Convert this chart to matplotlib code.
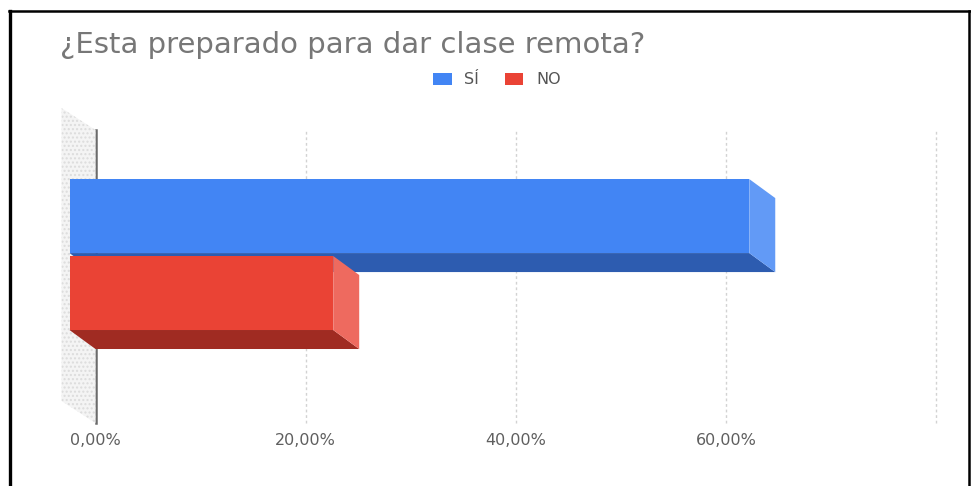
import matplotlib
matplotlib.use("Agg")
import matplotlib.pyplot as plt
from matplotlib.patches import Polygon, Patch
from matplotlib.lines import Line2D
from matplotlib.transforms import IdentityTransform

# ---------------- data ----------------
title = "¿Esta preparado para dar clase remota?"
series_names = ["SÍ", "NO"]
series_values = [64.7, 25.1]          # percent
x_ticks = [0, 20, 40, 60]
x_tick_labels = ["0,00%", "20,00%", "40,00%", "60,00%"]
grid_values = [20, 40, 60, 80]

# ---------------- style ----------------
front_colors = ["#4285F4", "#EA4335"]
side_colors = ["#629AF6", "#EE6A5F"]
bottom_colors = ["#2D5CB0", "#A02B22"]
DEPTH = (-26, 19)          # front face offset from back plane, pixels (display, y up)
WALL_DEPTH = (-34, 22)

W, H, DPI = 971, 486, 100
fig = plt.figure(figsize=(W / DPI, H / DPI), dpi=DPI)
fig.patch.set_facecolor("white")
plt.rcParams["font.family"] = ["DejaVu Sans"]

# back plane: x 95.5..936 px, y 130..423 px (from top)
left, right, top, bottom = 95.5, 936, 130, 423
ax = fig.add_axes([left / W, 1 - bottom / H, (right - left) / W, (bottom - top) / H])
ax.set_xlim(0, 80)
ax.set_ylim(1.98, -1.98)
for s in ax.spines.values():
    s.set_visible(False)
ax.set_facecolor("none")
ax.set_yticks([])
ax.set_xticks(x_ticks)
ax.set_xticklabels(x_tick_labels, fontsize=11.5, color="#5f5f5f")
ax.tick_params(axis="x", length=0, pad=7)

# gridlines
for g in grid_values:
    ax.axvline(g, color="#d2d2d2", lw=1.0, ls=(0, (2, 2)), zorder=1, clip_on=False)
ax.axvline(0, color="#6b6b6b", lw=1.8, zorder=2, clip_on=False)

T = ax.transData
ident = IdentityTransform()

# left wall (3D side wall)
(x0, y0), (x1, y1) = T.transform([(0, 1.98), (0, -1.98)])
wall = [(x0, y0), (x1, y1), (x1 + WALL_DEPTH[0], y1 + WALL_DEPTH[1]),
        (x0 + WALL_DEPTH[0], y0 + WALL_DEPTH[1])]
fig.patches.append(Polygon(wall, closed=True, transform=ident, facecolor="#f4f4f4",
                           edgecolor="#dcdcdc", hatch="....", lw=0, zorder=0))

# bars (oblique 3D)
c = -0.04
bar_h = 1.0
gap = 0.02
y_ranges = [(c - gap - bar_h, c - gap), (c + gap, c + gap + bar_h)]
dx, dy = DEPTH
for i, v in enumerate(series_values):
    ya, yb = y_ranges[i]
    (bx0, by_top), (bx1, by_bot) = T.transform([(0, ya), (v, yb)])
    f = lambda p: (p[0] + dx, p[1] + dy)
    btl, btr, bbr, bbl = (bx0, by_top), (bx1, by_top), (bx1, by_bot), (bx0, by_bot)
    ftl, ftr, fbr, fbl = f(btl), f(btr), f(bbr), f(bbl)
    z = 5 + i * 3
    fig.patches.append(Polygon([fbl, fbr, bbr, bbl], closed=True, transform=ident,
                               facecolor=bottom_colors[i], lw=0, zorder=z))
    fig.patches.append(Polygon([ftr, btr, bbr, fbr], closed=True, transform=ident,
                               facecolor=side_colors[i], lw=0, zorder=z + 1))
    fig.patches.append(Polygon([ftl, ftr, fbr, fbl], closed=True, transform=ident,
                               facecolor=front_colors[i], lw=0, zorder=z + 2))

# title
fig.text(60 / W, 1 - 53 / H, title, fontsize=21, color="#777777", va="baseline",
         ha="left")

# legend
handles = [Patch(facecolor=front_colors[i], edgecolor="none", label=series_names[i])
           for i in range(len(series_names))]
fig.legend(handles=handles, loc="center", bbox_to_anchor=(497 / W, 1 - 80 / H), ncol=2,
           frameon=False, handlelength=1.15, handleheight=0.85,
           handletextpad=0.8, columnspacing=1.6, labelcolor="#555555",
           prop={"size": 11.5})

# outer frame
fig.add_artist(Line2D([10 / W, 10 / W], [0, 1 - 11 / H], color="black", lw=2.4,
                      transform=fig.transFigure))
fig.add_artist(Line2D([8.8 / W, 971 / W], [1 - 11.5 / H, 1 - 11.5 / H], color="black", lw=1.8,
                      transform=fig.transFigure))
fig.add_artist(Line2D([968.5 / W, 968.5 / W], [0, 1 - 11 / H], color="black", lw=1.8,
                      transform=fig.transFigure))

fig.savefig("out.png", dpi=DPI)
